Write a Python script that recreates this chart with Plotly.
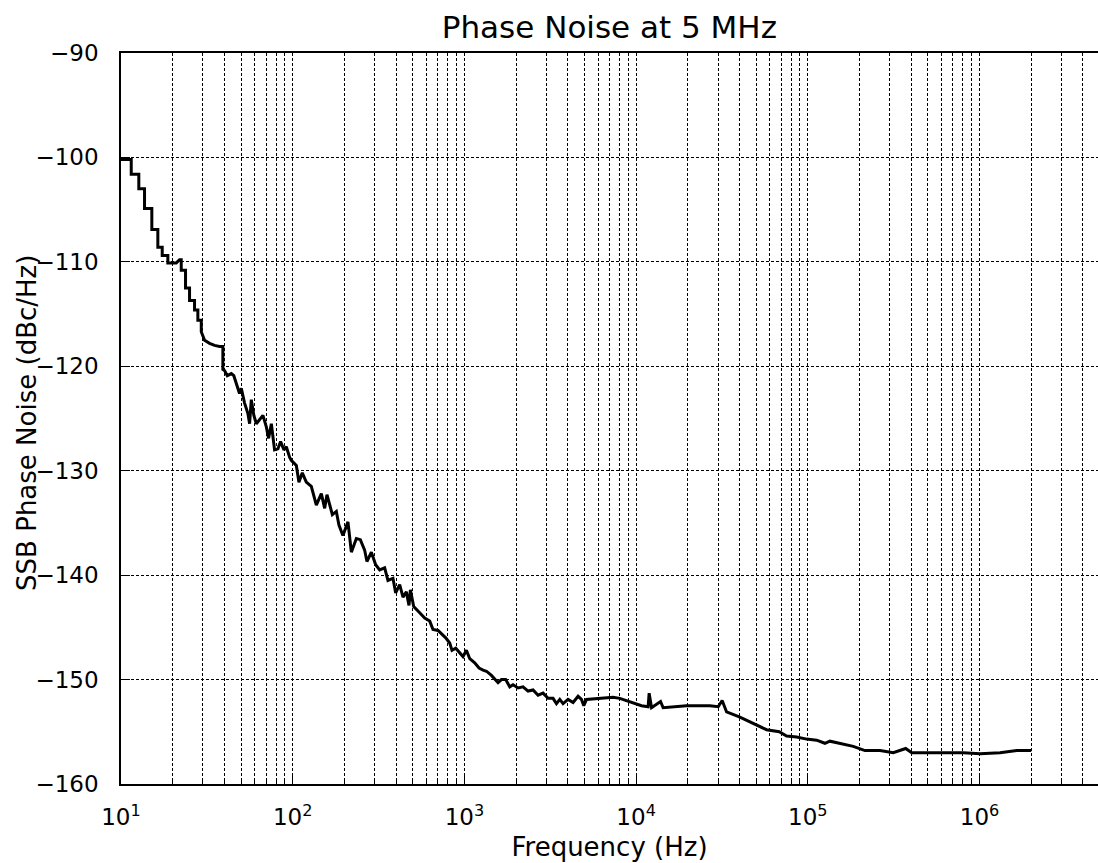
import plotly.graph_objects as go

# Frequency (Hz) and SSB phase noise (dBc/Hz)
freq = [10.0, 11.47, 11.47, 12.70, 12.70, 13.71, 13.71, 15.12, 15.12, 16.39, 16.39,
        17.38, 17.38, 18.74, 18.74, 20.98, 21.93, 22.43, 22.43, 23.76, 23.76,
        25.07, 25.07, 26.81, 26.81, 28.03, 28.03, 29.34, 29.34, 30.67, 32.8,
        35.07, 37.5, 39.2, 39.2,
        40.1, 41.6, 43.9, 45.4, 47.6, 49.0, 50.2, 52.4, 54.8, 56.1, 57.4, 59.4,
        61.4, 64.1, 67.1, 70.2, 72.4, 75.1, 78.4, 82.0, 85.0, 88.9, 91.8, 95.9,
        98.1, 105.0, 108.7, 113.7, 120.0, 128.3, 137.3, 146.8, 153.5, 158.3,
        170.2, 179.5, 185.9, 196.1, 209.8, 219.6, 234.8, 247.7, 262.4, 270.6,
        287.1, 304.2, 320.9, 343.2, 358.7, 383.6, 397.8, 419.8, 438.8, 459.2,
        475.6, 484.6, 506.5,
        549, 587.2, 628, 656.2, 701.8, 734.5, 778.2, 821.1, 846.7, 889.9, 938.9,
        981.3, 1027, 1074, 1148, 1217, 1284, 1344, 1437, 1502, 1570, 1643, 1740,
        1837, 1920, 2053, 2195, 2348, 2511, 2685, 2871, 3071, 3283, 3437, 3593,
        3755, 4016, 4295, 4592, 4807, 4959, 5140, 6146,
        7345, 8035, 9190, 10750, 11750, 11910, 12300, 13880, 14370, 19670,
        26890, 30060, 31710, 33640, 40210, 48070, 57540, 68130, 75240, 86040,
        98400, 112500, 125800, 134500, 153800, 183900, 215200, 263200, 314500,
        371500, 402700, 538000, 804500, 1007000, 1317000, 1648000, 2000000]
noise = [-100.2, -100.2, -101.6, -101.6, -103.0, -103.0, -104.9, -104.9, -106.9,
         -106.9, -108.6, -108.6, -109.4, -109.4, -110.1, -110.1, -109.8, -109.8,
         -110.8, -110.8, -112.5, -112.5, -113.7, -113.7, -114.6, -114.6, -115.6,
         -115.6, -116.7, -117.5, -117.8, -118.0, -118.1, -118.1, -120.3,
         -120.4, -120.9, -120.7, -120.9, -122.0, -122.6, -122.1, -123.5, -124.5,
         -125.5, -123.2, -124.7, -125.5, -125.1, -124.7, -125.8, -126.9, -125.5,
         -128.0, -127.9, -127.2, -128.0, -127.7, -128.7,
         -129.0, -129.5, -131.1, -130.2, -131.1, -131.5, -133.3, -132.2, -133.6,
         -132.3, -134.2, -133.9, -135.2, -136.2, -134.9, -137.8, -136.5, -136.6,
         -137.6, -138.7, -137.8, -139.0, -139.5, -139.3, -140.5, -140.3, -141.7,
         -140.9, -142.1, -141.6, -142.9, -141.4, -143.0,
         -143.6, -144.1, -144.4, -145.2, -145.3, -145.6, -146.0, -146.5, -147.2,
         -147.0, -147.5, -147.8, -147.2, -148.0, -148.4, -148.9, -149.1, -149.2,
         -149.6, -149.9, -150.3, -150.0, -150.0, -150.7, -150.5, -150.8, -150.7,
         -151.1, -151.0, -151.5, -151.3, -151.8, -151.8, -152.3, -151.9, -152.3,
         -151.9, -152.2, -151.6, -151.9, -152.5, -151.9, -151.8,
         -151.7, -151.8, -152.1, -152.5, -152.6, -151.3, -152.7, -152.1, -152.7,
         -152.5, -152.5, -152.6, -152.0, -153.1, -153.6, -154.2, -154.8, -155.0,
         -155.4, -155.5, -155.7, -155.8, -156.1, -155.9, -156.1, -156.4, -156.8,
         -156.8, -157.0, -156.6, -157.0, -157.0, -157.0, -157.1, -157.0, -156.8,
         -156.8]

x_tick_vals = [10, 100, 1000, 10000, 100000, 1000000]
x_tick_text = ["10<sup>1</sup>", "10<sup>2</sup>", "10<sup>3</sup>",
               "10<sup>4</sup>", "10<sup>5</sup>", "10<sup>6</sup>"]
x_minor_vals = [m * 10 ** e for e in range(1, 7) for m in range(2, 10)]
y_tick_vals = [-90, -100, -110, -120, -130, -140, -150, -160]
y_tick_text = ["\u221290", "\u2212100", "\u2212110", "\u2212120", "\u2212130",
               "\u2212140", "\u2212150", "\u2212160"]

FONT = "DejaVu Sans"
grid = dict(showgrid=True, gridcolor="black", gridwidth=0.8, griddash="3px,2px")

fig = go.Figure()
fig.add_trace(go.Scatter(x=freq, y=noise, mode="lines",
                         line=dict(color="black", width=3), showlegend=False))

fig.update_layout(
    width=1098, height=863,
    margin=dict(l=121, r=0, t=53, b=79),
    paper_bgcolor="white", plot_bgcolor="white",
    font=dict(family=FONT, color="black", size=23),
    title=dict(text="Phase Noise at 5 MHz", x=0.555, xanchor="center",
               y=0.9687, yanchor="middle", font=dict(size=31, family=FONT)),
    xaxis=dict(type="log", range=[1, 6.69], tickmode="array",
               tickvals=x_tick_vals, ticktext=x_tick_text,
               ticks="inside", ticklen=9, tickwidth=1.2, tickcolor="black",
               showline=True, mirror=True, linecolor="black", linewidth=1.5,
               ticklabelstandoff=12, zeroline=False,
               title=dict(text="Frequency (Hz)", font=dict(size=26, family=FONT),
                          standoff=8),
               minor=dict(tickmode="array", tickvals=x_minor_vals,
                          ticks="inside", ticklen=5, tickcolor="black",
                          **grid),
               **grid),
    yaxis=dict(range=[-160, -90], tickmode="array",
               tickvals=y_tick_vals, ticktext=y_tick_text,
               ticks="inside", ticklen=9, tickwidth=1.2, tickcolor="black",
               showline=True, mirror=False, linecolor="black", linewidth=1.5,
               ticklabelstandoff=16, zeroline=False,
               **grid),
    annotations=[dict(text="SSB Phase Noise (dBc/Hz)", textangle=-90,
                      xref="paper", yref="paper", x=-0.0962, y=0.494,
                      xanchor="center", yanchor="middle", showarrow=False,
                      font=dict(size=26, family=FONT))],
)

fig.write_html(
    "out.html",
    config={"displayModeBar": False},
    post_script="document.body.style.margin='0';"
                "document.body.style.overflow='hidden';",
)
